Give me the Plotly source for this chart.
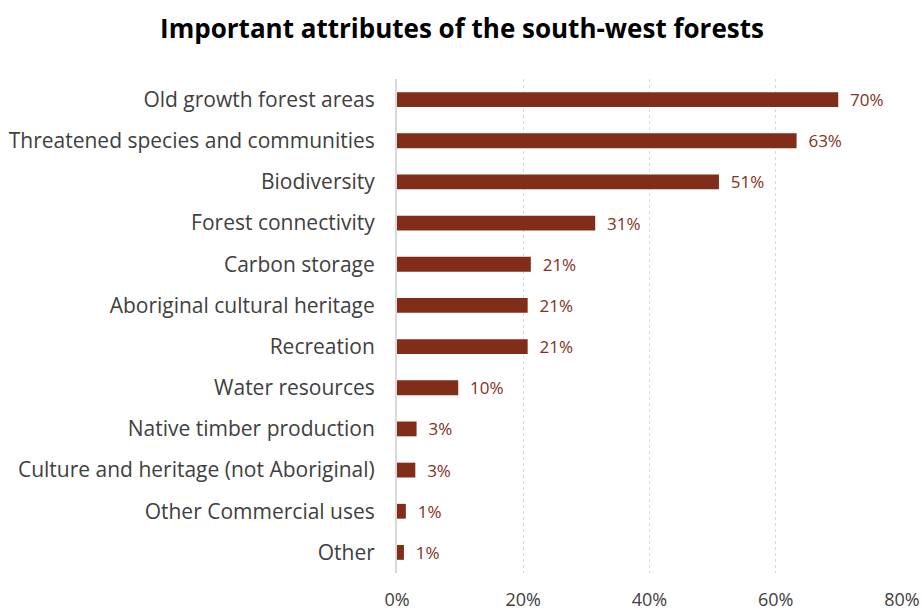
import plotly.graph_objects as go

categories = [
    "Old growth forest areas",
    "Threatened species and communities",
    "Biodiversity",
    "Forest connectivity",
    "Carbon storage",
    "Aboriginal cultural heritage",
    "Recreation",
    "Water resources",
    "Native timber production",
    "Culture and heritage (not Aboriginal)",
    "Other Commercial uses",
    "Other",
]
values = [69.9, 63.3, 51.0, 31.4, 21.2, 20.7, 20.7, 9.7, 3.1, 2.9, 1.4, 1.1]
labels = ["70%", "63%", "51%", "31%", "21%", "21%", "21%", "10%", "3%", "3%", "1%", "1%"]
tick_vals = [0, 20, 40, 60, 80]
tick_text = ["0%", "20%", "40%", "60%", "80%"]

BAR = "#822D19"
FONT = "Open Sans"

fig = go.Figure(go.Bar(
    x=values, y=categories, orientation="h",
    marker=dict(color=BAR, line=dict(width=0)),
    width=0.36,
    text=["  " + t for t in labels], textposition="outside",
    constraintext="none",
    textfont=dict(color="#843020", size=17, family=FONT),
    cliponaxis=False,
))

fig.update_layout(
    width=924, height=613,
    paper_bgcolor="white", plot_bgcolor="white",
    margin=dict(l=397, r=22, t=79, b=40, autoexpand=False),
    title=dict(text="<b>Important attributes of the south-west forests</b>",
               x=0.5, xanchor="center", y=0.953, yanchor="middle",
               font=dict(size=26, color="#000000", family=FONT)),
    showlegend=False,
    xaxis=dict(range=[0, 80], tickvals=tick_vals, ticktext=tick_text,
               automargin=False,
               showgrid=True, gridcolor="#D9D9D9", griddash="dot", gridwidth=1,
               zeroline=False, showline=False,
               tickfont=dict(size=18, color="#404040", family=FONT),
               ticks="outside", ticklen=10, tickcolor="rgba(0,0,0,0)"),
    yaxis=dict(categoryorder="array", categoryarray=categories[::-1],
               automargin=False,
               showgrid=False, showline=True, linecolor="#D9D9D9", linewidth=2,
               tickfont=dict(size=21, color="#404040", family=FONT),
               ticks="outside", ticklen=16, tickcolor="rgba(0,0,0,0)"),
    bargap=0.64,
)

fig.write_html("out.html")
